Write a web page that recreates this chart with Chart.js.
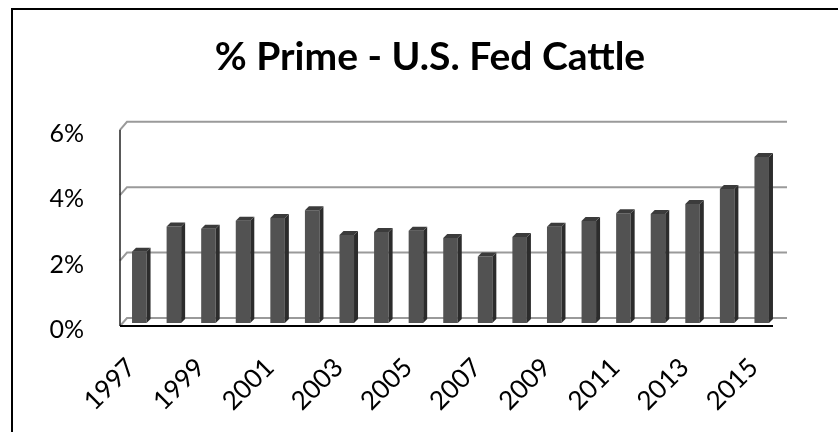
<!DOCTYPE html>
<html>
<head>
<meta charset="utf-8">
<script src="https://cdn.jsdelivr.net/npm/chart.js@4.4.0/dist/chart.umd.min.js"></script>
<style>
  body { margin: 0; background: #fff; }
  #wrap { position: relative; width: 838px; height: 432px; overflow: hidden; }
  #frame { position: absolute; left: 11px; top: 8px; right: -5px; bottom: -5px;
           border-left: 2px solid #000; border-top: 2px solid #000; pointer-events: none; }
  canvas { position: absolute; left: 0; top: 0; }
</style>
</head>
<body>
<div id="wrap">
  <canvas id="primeChart" width="838" height="432"></canvas>
  <div id="frame"></div>
</div>
<script>
// data
const years = ["1997", "1998", "1999", "2000", "2001", "2002", "2003", "2004", "2005", "2006",
               "2007", "2008", "2009", "2010", "2011", "2012", "2013", "2014", "2015"];
const primePct = [2.18, 2.95, 2.88, 3.13, 3.21, 3.45, 2.69, 2.78, 2.82, 2.60,
                  2.03, 2.63, 2.94, 3.12, 3.36, 3.33, 3.64, 4.10, 5.08];
const yTicks = [0, 2, 4, 6];

// fake 3d look, like the old excel chart
const WALL_DX = 7, WALL_DY = 8;
const BAR_DX = 4, BAR_DY = 4;

const fake3d = {
  id: "fake3d",
  afterLayout(chart) {
    // the y scale box is narrow (so the title centres right), let its labels spill left
    chart.scales.y.left = 30;
  },
  beforeDatasetsDraw(chart) {
    const ctx = chart.ctx;
    const a = chart.chartArea;
    const y = chart.scales.y;
    const wallRight = a.right + 10;

    ctx.save();
    // back wall gridlines
    ctx.strokeStyle = "#9a9a9a";
    ctx.lineWidth = 2;
    yTicks.forEach((v) => {
      const fy = y.getPixelForValue(v);
      ctx.beginPath();
      ctx.moveTo(a.left, fy);
      ctx.lineTo(a.left + WALL_DX, fy - WALL_DY);
      ctx.lineTo(wallRight, fy - WALL_DY);
      ctx.stroke();
    });
    // front value axis
    ctx.strokeStyle = "#222";
    ctx.lineWidth = 1.5;
    ctx.beginPath();
    ctx.moveTo(a.left, a.top);
    ctx.lineTo(a.left, a.bottom);
    ctx.stroke();
    ctx.restore();

    // bars sit a bit inside the box
    ctx.save();
    ctx.translate(2, -3);
  },
  afterDatasetsDraw(chart) {
    const ctx = chart.ctx;
    const a = chart.chartArea;
    const bars = chart.getDatasetMeta(0).data;

    bars.forEach((bar) => {
      const left = bar.x - bar.width / 2;
      const right = bar.x + bar.width / 2;
      // side
      ctx.fillStyle = "#2c2c2c";
      ctx.beginPath();
      ctx.moveTo(right, bar.y);
      ctx.lineTo(right + BAR_DX, bar.y - BAR_DY);
      ctx.lineTo(right + BAR_DX, bar.base - BAR_DY);
      ctx.lineTo(right, bar.base);
      ctx.closePath();
      ctx.fill();
      // top
      ctx.fillStyle = "#3b3b3b";
      ctx.beginPath();
      ctx.moveTo(left, bar.y);
      ctx.lineTo(left + BAR_DX, bar.y - BAR_DY);
      ctx.lineTo(right + BAR_DX, bar.y - BAR_DY);
      ctx.lineTo(right, bar.y);
      ctx.closePath();
      ctx.fill();
    });
    ctx.restore();

    // front floor edge
    ctx.save();
    ctx.strokeStyle = "#000";
    ctx.lineWidth = 2;
    ctx.beginPath();
    ctx.moveTo(a.left, a.bottom);
    ctx.lineTo(a.right - 4, a.bottom);
    ctx.stroke();
    ctx.restore();
  }
};

const ctx = document.getElementById("primeChart").getContext("2d");
const primeChart = new Chart(ctx, {
  type: "bar",
  data: {
    labels: years,
    datasets: [
      {
        label: "% Prime",
        data: primePct,
        backgroundColor: "#525252",
        borderWidth: 0,
        barPercentage: 0.42,
        categoryPercentage: 1.0,
      },
    ],
  },
  options: {
    responsive: false,
    animation: false,
    layout: {
      // left bigger than right so the title centres like the original
      padding: { left: 83, right: 61, top: 0, bottom: 0 },
    },
    plugins: {
      legend: { display: false },
      tooltip: { enabled: false },
      title: {
        display: true,
        text: "% Prime - U.S. Fed Cattle",
        color: "#000",
        font: { family: "Lato", size: 39, weight: "bold", lineHeight: 1.2 },
        padding: { top: 34, bottom: 49 },
      },
    },
    scales: {
      x: {
        grid: { display: false },
        border: { display: false },
        ticks: {
          autoSkip: false,
          maxRotation: 45,
          minRotation: 45,
          padding: 18,
          labelOffset: -6,
          color: "#000",
          font: { family: "Lato", size: 26 },
          callback: (v, i) => (i % 2 === 0 ? years[i] : ""),
        },
        afterFit: (scale) => { scale.height = 106; },
      },
      y: {
        min: 0,
        max: 6,
        grid: { display: false },
        border: { display: false },
        ticks: {
          stepSize: 2,
          padding: 28,
          labelOffset: 4,
          color: "#000",
          font: { family: "Lato", size: 25 },
          callback: (v) => v + "%",
        },
        afterFit: (scale) => { scale.width = 37; },
      },
    },
  },
  plugins: [fake3d],
});
</script>
</body>
</html>
